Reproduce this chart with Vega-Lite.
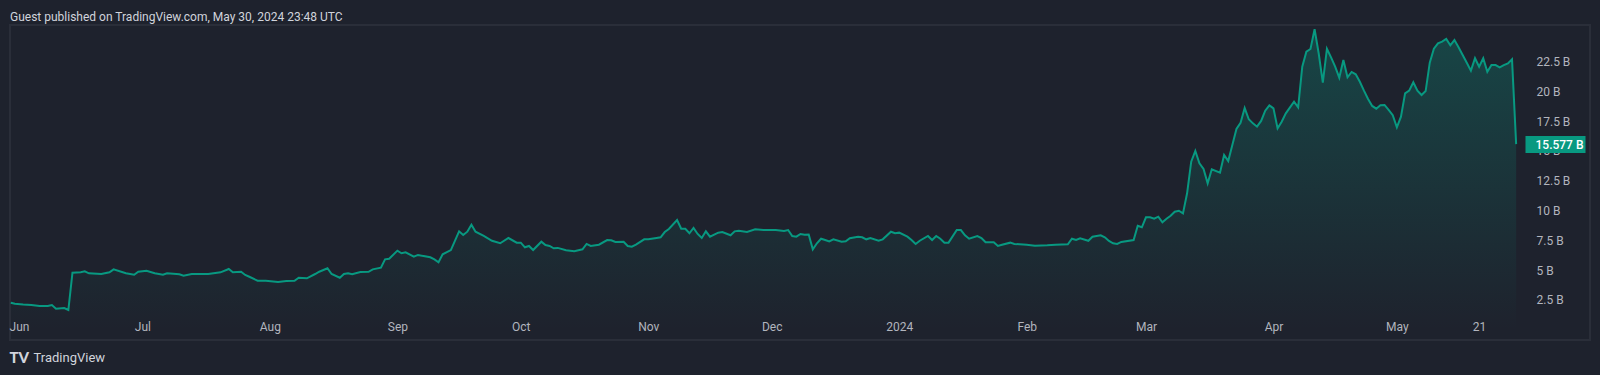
{
  "$schema": "https://vega.github.io/schema/vega-lite/v6.json",
  "width": 1580,
  "height": 315,
  "autosize": {"type": "none"},
  "padding": {"left": 10, "top": 25, "right": 10, "bottom": 35},
  "background": "#1e222d",
  "config": {
    "view": {"stroke": "#2a2e39", "strokeWidth": 2, "fill": "#1e222d"},
    "font": "Roboto"
  },
  "title": {
    "text": "Guest published on TradingView.com, May 30, 2024 23:48 UTC",
    "anchor": "start",
    "frame": "group",
    "offset": 4,
    "dy": 15,
    "baseline": "bottom",
    "color": "#d1d4dc",
    "fontSize": 12,
    "fontWeight": "normal",
    "font": "Roboto"
  },
  "data": {
    "values": [
      {"t": "2023-05-30", "v": 2.27}, {"t": "2023-05-31", "v": 2.18}, {"t": "2023-06-02", "v": 2.12}, {"t": "2023-06-04", "v": 2.08},
      {"t": "2023-06-06", "v": 2.0}, {"t": "2023-06-08", "v": 2.0}, {"t": "2023-06-09", "v": 2.08}, {"t": "2023-06-10", "v": 1.77},
      {"t": "2023-06-12", "v": 1.83}, {"t": "2023-06-13", "v": 1.66}, {"t": "2023-06-14", "v": 4.79}, {"t": "2023-06-16", "v": 4.82},
      {"t": "2023-06-17", "v": 4.9}, {"t": "2023-06-18", "v": 4.74}, {"t": "2023-06-21", "v": 4.68}, {"t": "2023-06-23", "v": 4.82},
      {"t": "2023-06-24", "v": 5.07}, {"t": "2023-06-27", "v": 4.74}, {"t": "2023-06-29", "v": 4.62}, {"t": "2023-06-30", "v": 4.87},
      {"t": "2023-07-02", "v": 4.96}, {"t": "2023-07-04", "v": 4.74}, {"t": "2023-07-06", "v": 4.62}, {"t": "2023-07-07", "v": 4.74},
      {"t": "2023-07-10", "v": 4.66}, {"t": "2023-07-11", "v": 4.54}, {"t": "2023-07-13", "v": 4.68}, {"t": "2023-07-17", "v": 4.68},
      {"t": "2023-07-20", "v": 4.82}, {"t": "2023-07-22", "v": 5.1}, {"t": "2023-07-23", "v": 4.82}, {"t": "2023-07-25", "v": 4.87},
      {"t": "2023-07-26", "v": 4.6}, {"t": "2023-07-27", "v": 4.45}, {"t": "2023-07-29", "v": 4.12}, {"t": "2023-07-31", "v": 4.12},
      {"t": "2023-08-03", "v": 4.01}, {"t": "2023-08-05", "v": 4.09}, {"t": "2023-08-07", "v": 4.12}, {"t": "2023-08-08", "v": 4.37},
      {"t": "2023-08-10", "v": 4.32}, {"t": "2023-08-12", "v": 4.68}, {"t": "2023-08-13", "v": 4.87}, {"t": "2023-08-15", "v": 5.16},
      {"t": "2023-08-16", "v": 4.68}, {"t": "2023-08-18", "v": 4.37}, {"t": "2023-08-19", "v": 4.68}, {"t": "2023-08-20", "v": 4.74},
      {"t": "2023-08-21", "v": 4.66}, {"t": "2023-08-23", "v": 4.85}, {"t": "2023-08-25", "v": 4.87}, {"t": "2023-08-26", "v": 5.07},
      {"t": "2023-08-28", "v": 5.21}, {"t": "2023-08-29", "v": 5.91}, {"t": "2023-08-30", "v": 5.96}, {"t": "2023-09-01", "v": 6.64},
      {"t": "2023-09-02", "v": 6.42}, {"t": "2023-09-03", "v": 6.5}, {"t": "2023-09-05", "v": 6.13}, {"t": "2023-09-06", "v": 6.28},
      {"t": "2023-09-09", "v": 6.08}, {"t": "2023-09-10", "v": 5.91}, {"t": "2023-09-11", "v": 5.66}, {"t": "2023-09-12", "v": 6.33},
      {"t": "2023-09-14", "v": 6.69}, {"t": "2023-09-16", "v": 8.26}, {"t": "2023-09-17", "v": 7.95}, {"t": "2023-09-18", "v": 8.23},
      {"t": "2023-09-19", "v": 8.82}, {"t": "2023-09-20", "v": 8.23}, {"t": "2023-09-22", "v": 7.87}, {"t": "2023-09-24", "v": 7.47},
      {"t": "2023-09-26", "v": 7.26}, {"t": "2023-09-28", "v": 7.7}, {"t": "2023-09-30", "v": 7.31}, {"t": "2023-10-01", "v": 7.31},
      {"t": "2023-10-02", "v": 6.92}, {"t": "2023-10-03", "v": 7.03}, {"t": "2023-10-04", "v": 6.69}, {"t": "2023-10-06", "v": 7.39},
      {"t": "2023-10-07", "v": 7.11}, {"t": "2023-10-08", "v": 7.03}, {"t": "2023-10-09", "v": 6.84}, {"t": "2023-10-10", "v": 6.87},
      {"t": "2023-10-12", "v": 6.67}, {"t": "2023-10-14", "v": 6.59}, {"t": "2023-10-16", "v": 6.75}, {"t": "2023-10-17", "v": 7.2},
      {"t": "2023-10-18", "v": 7.03}, {"t": "2023-10-20", "v": 7.14}, {"t": "2023-10-22", "v": 7.53}, {"t": "2023-10-23", "v": 7.51},
      {"t": "2023-10-24", "v": 7.37}, {"t": "2023-10-26", "v": 7.39}, {"t": "2023-10-27", "v": 7.03}, {"t": "2023-10-28", "v": 6.97},
      {"t": "2023-10-29", "v": 7.14}, {"t": "2023-10-31", "v": 7.59}, {"t": "2023-11-01", "v": 7.59}, {"t": "2023-11-03", "v": 7.7},
      {"t": "2023-11-04", "v": 7.76}, {"t": "2023-11-05", "v": 8.2}, {"t": "2023-11-06", "v": 8.46}, {"t": "2023-11-08", "v": 9.21},
      {"t": "2023-11-09", "v": 8.48}, {"t": "2023-11-10", "v": 8.48}, {"t": "2023-11-11", "v": 8.1}, {"t": "2023-11-12", "v": 8.54},
      {"t": "2023-11-13", "v": 8.04}, {"t": "2023-11-14", "v": 7.7}, {"t": "2023-11-15", "v": 8.26}, {"t": "2023-11-16", "v": 7.81},
      {"t": "2023-11-18", "v": 8.15}, {"t": "2023-11-19", "v": 8.2}, {"t": "2023-11-21", "v": 7.93}, {"t": "2023-11-22", "v": 8.26},
      {"t": "2023-11-23", "v": 8.31}, {"t": "2023-11-25", "v": 8.2}, {"t": "2023-11-27", "v": 8.43}, {"t": "2023-11-29", "v": 8.37},
      {"t": "2023-12-02", "v": 8.37}, {"t": "2023-12-04", "v": 8.29}, {"t": "2023-12-05", "v": 8.37}, {"t": "2023-12-06", "v": 7.87},
      {"t": "2023-12-07", "v": 7.81}, {"t": "2023-12-08", "v": 8.04}, {"t": "2023-12-09", "v": 7.98}, {"t": "2023-12-10", "v": 8.0},
      {"t": "2023-12-11", "v": 6.75}, {"t": "2023-12-12", "v": 7.26}, {"t": "2023-12-13", "v": 7.64}, {"t": "2023-12-14", "v": 7.53},
      {"t": "2023-12-15", "v": 7.42}, {"t": "2023-12-16", "v": 7.59}, {"t": "2023-12-18", "v": 7.39}, {"t": "2023-12-19", "v": 7.42},
      {"t": "2023-12-20", "v": 7.68}, {"t": "2023-12-22", "v": 7.81}, {"t": "2023-12-23", "v": 7.76}, {"t": "2023-12-24", "v": 7.59},
      {"t": "2023-12-25", "v": 7.7}, {"t": "2023-12-27", "v": 7.47}, {"t": "2023-12-28", "v": 7.59}, {"t": "2023-12-30", "v": 8.23},
      {"t": "2023-12-31", "v": 8.1}, {"t": "2024-01-01", "v": 8.15}, {"t": "2024-01-03", "v": 7.81}, {"t": "2024-01-04", "v": 7.53},
      {"t": "2024-01-05", "v": 7.2}, {"t": "2024-01-06", "v": 7.47}, {"t": "2024-01-08", "v": 7.87}, {"t": "2024-01-09", "v": 7.53},
      {"t": "2024-01-10", "v": 7.87}, {"t": "2024-01-11", "v": 7.64}, {"t": "2024-01-12", "v": 7.31}, {"t": "2024-01-13", "v": 7.31},
      {"t": "2024-01-15", "v": 8.37}, {"t": "2024-01-16", "v": 8.37}, {"t": "2024-01-17", "v": 7.93}, {"t": "2024-01-18", "v": 7.64},
      {"t": "2024-01-20", "v": 7.87}, {"t": "2024-01-21", "v": 7.7}, {"t": "2024-01-22", "v": 7.34}, {"t": "2024-01-24", "v": 7.34},
      {"t": "2024-01-25", "v": 7.03}, {"t": "2024-01-26", "v": 7.14}, {"t": "2024-01-28", "v": 7.31}, {"t": "2024-01-29", "v": 7.2},
      {"t": "2024-02-01", "v": 7.14}, {"t": "2024-02-03", "v": 7.06}, {"t": "2024-02-06", "v": 7.09}, {"t": "2024-02-08", "v": 7.14},
      {"t": "2024-02-11", "v": 7.17}, {"t": "2024-02-12", "v": 7.64}, {"t": "2024-02-13", "v": 7.53}, {"t": "2024-02-14", "v": 7.68},
      {"t": "2024-02-16", "v": 7.47}, {"t": "2024-02-17", "v": 7.81}, {"t": "2024-02-19", "v": 7.93}, {"t": "2024-02-20", "v": 7.76},
      {"t": "2024-02-21", "v": 7.45}, {"t": "2024-02-22", "v": 7.26}, {"t": "2024-02-23", "v": 7.2}, {"t": "2024-02-24", "v": 7.37},
      {"t": "2024-02-27", "v": 7.53}, {"t": "2024-02-28", "v": 8.73}, {"t": "2024-02-29", "v": 8.6}, {"t": "2024-03-01", "v": 9.44},
      {"t": "2024-03-02", "v": 9.44}, {"t": "2024-03-03", "v": 9.32}, {"t": "2024-03-04", "v": 9.49}, {"t": "2024-03-05", "v": 9.02},
      {"t": "2024-03-06", "v": 9.32}, {"t": "2024-03-07", "v": 9.57}, {"t": "2024-03-08", "v": 9.91}, {"t": "2024-03-09", "v": 9.99},
      {"t": "2024-03-10", "v": 9.77}, {"t": "2024-03-11", "v": 11.45}, {"t": "2024-03-12", "v": 14.1}, {"t": "2024-03-13", "v": 15.0},
      {"t": "2024-03-14", "v": 13.97}, {"t": "2024-03-15", "v": 13.49}, {"t": "2024-03-16", "v": 12.29}, {"t": "2024-03-17", "v": 13.47},
      {"t": "2024-03-19", "v": 13.18}, {"t": "2024-03-20", "v": 14.66}, {"t": "2024-03-21", "v": 14.16}, {"t": "2024-03-22", "v": 15.5},
      {"t": "2024-03-23", "v": 16.85}, {"t": "2024-03-24", "v": 17.37}, {"t": "2024-03-25", "v": 18.6}, {"t": "2024-03-26", "v": 17.66},
      {"t": "2024-03-27", "v": 17.32}, {"t": "2024-03-28", "v": 17.04}, {"t": "2024-03-29", "v": 17.52}, {"t": "2024-03-30", "v": 18.38},
      {"t": "2024-03-31", "v": 18.83}, {"t": "2024-04-01", "v": 18.58}, {"t": "2024-04-02", "v": 16.9}, {"t": "2024-04-03", "v": 17.46},
      {"t": "2024-04-04", "v": 18.16}, {"t": "2024-04-06", "v": 19.14}, {"t": "2024-04-07", "v": 18.67}, {"t": "2024-04-08", "v": 22.07},
      {"t": "2024-04-09", "v": 23.33}, {"t": "2024-04-10", "v": 23.56}, {"t": "2024-04-11", "v": 25.21}, {"t": "2024-04-12", "v": 23.18},
      {"t": "2024-04-13", "v": 20.73}, {"t": "2024-04-14", "v": 23.58}, {"t": "2024-04-15", "v": 22.86}, {"t": "2024-04-16", "v": 22.07},
      {"t": "2024-04-17", "v": 21.15}, {"t": "2024-04-18", "v": 22.63}, {"t": "2024-04-19", "v": 21.18}, {"t": "2024-04-20", "v": 21.63},
      {"t": "2024-04-21", "v": 21.43}, {"t": "2024-04-22", "v": 20.81}, {"t": "2024-04-23", "v": 20.06}, {"t": "2024-04-24", "v": 19.36},
      {"t": "2024-04-25", "v": 18.78}, {"t": "2024-04-26", "v": 18.55}, {"t": "2024-04-27", "v": 18.83}, {"t": "2024-04-28", "v": 18.86},
      {"t": "2024-04-29", "v": 18.44}, {"t": "2024-04-30", "v": 18.0}, {"t": "2024-05-01", "v": 16.99}, {"t": "2024-05-02", "v": 17.88},
      {"t": "2024-05-03", "v": 19.84}, {"t": "2024-05-04", "v": 20.06}, {"t": "2024-05-05", "v": 20.76}, {"t": "2024-05-06", "v": 20.06},
      {"t": "2024-05-07", "v": 19.7}, {"t": "2024-05-08", "v": 20.03}, {"t": "2024-05-09", "v": 22.41}, {"t": "2024-05-10", "v": 23.58},
      {"t": "2024-05-11", "v": 24.03}, {"t": "2024-05-12", "v": 24.17}, {"t": "2024-05-13", "v": 24.4}, {"t": "2024-05-14", "v": 23.87},
      {"t": "2024-05-15", "v": 24.31}, {"t": "2024-05-16", "v": 23.7}, {"t": "2024-05-17", "v": 23.05}, {"t": "2024-05-18", "v": 22.41},
      {"t": "2024-05-19", "v": 21.74}, {"t": "2024-05-20", "v": 22.78}, {"t": "2024-05-21", "v": 22.07}, {"t": "2024-05-22", "v": 22.78},
      {"t": "2024-05-23", "v": 21.65}, {"t": "2024-05-24", "v": 22.21}, {"t": "2024-05-25", "v": 22.21}, {"t": "2024-05-26", "v": 22.02},
      {"t": "2024-05-27", "v": 22.2}, {"t": "2024-05-28", "v": 22.35}, {"t": "2024-05-29", "v": 22.69}, {"t": "2024-05-30", "v": 15.577}
    ]
  },
  "resolve": {"scale": {"x": "shared", "y": "shared"}, "axis": {"x": "independent", "y": "independent"}},
  "layer": [
    {
      "mark": {
        "type": "area",
        "interpolate": "linear",
        "fill": {
          "gradient": "linear",
          "x1": 0, "y1": 0, "x2": 0, "y2": 1,
          "stops": [
            {"offset": 0, "color": "rgba(8,153,129,0.30)"},
            {"offset": 1, "color": "rgba(8,153,129,0.0)"}
          ]
        }
      },
      "encoding": {
        "x": {
          "field": "t",
          "type": "temporal",
          "scale": {
            "type": "utc",
            "nice": false,
            "domain": [
              {"year": 2023, "month": 5, "date": 29, "hours": 19, "minutes": 30, "utc": true},
              {"year": 2024, "month": 6, "date": 16, "hours": 23, "utc": true}
            ]
          },
          "axis": {
            "orient": "bottom",
            "offset": -25,
            "values": [
              {"year": 2023, "month": 6, "date": 1, "utc": true},
              {"year": 2023, "month": 7, "date": 1, "utc": true},
              {"year": 2023, "month": 8, "date": 1, "utc": true},
              {"year": 2023, "month": 9, "date": 1, "utc": true},
              {"year": 2023, "month": 10, "date": 1, "utc": true},
              {"year": 2023, "month": 11, "date": 1, "utc": true},
              {"year": 2023, "month": 12, "date": 1, "utc": true},
              {"year": 2024, "month": 1, "date": 1, "utc": true},
              {"year": 2024, "month": 2, "date": 1, "utc": true},
              {"year": 2024, "month": 3, "date": 1, "utc": true},
              {"year": 2024, "month": 4, "date": 1, "utc": true},
              {"year": 2024, "month": 5, "date": 1, "utc": true},
              {"year": 2024, "month": 5, "date": 21, "utc": true}
            ],
            "labelExpr": "utcdate(datum.value) != 1 ? utcFormat(datum.value, '%d') : (utcmonth(datum.value) == 0 ? utcFormat(datum.value, '%Y') : utcFormat(datum.value, '%b'))",
            "domain": false,
            "ticks": false,
            "tickSize": 0,
            "grid": false,
            "labelPadding": 6,
            "labelColor": "#b2b5be",
            "labelFontSize": 12,
            "labelFont": "Roboto",
            "labelFlush": false,
            "labelOverlap": false,
            "labelBound": false,
            "title": "TradingView",
            "titleX": 23,
            "titleY": 42,
            "titleAlign": "left",
            "titleAnchor": "start",
            "titleBaseline": "middle",
            "titleColor": "#d1d4dc",
            "titleFontSize": 13,
            "titleFontWeight": "normal",
            "titleFont": "Roboto"
          }
        },
        "y": {
          "field": "v",
          "type": "quantitative",
          "scale": {"domain": [-0.856, 25.57], "zero": false, "nice": false},
          "axis": {
            "orient": "right",
            "offset": -54,
            "values": [2.5, 5, 7.5, 10, 12.5, 15, 17.5, 20, 22.5],
            "labelExpr": "datum.value + ' B'",
            "domain": false,
            "ticks": false,
            "tickSize": 0,
            "grid": false,
            "labelPadding": 0,
            "labelColor": "#b2b5be",
            "labelFontSize": 12,
            "labelFont": "Roboto",
            "labelFlush": false,
            "labelOverlap": false,
            "labelBound": false,
            "title": null
          }
        }
      }
    },
    {
      "mark": {"type": "line", "stroke": "#089981", "strokeWidth": 2, "interpolate": "linear"},
      "encoding": {
        "x": {"field": "t", "type": "temporal", "axis": null},
        "y": {"field": "v", "type": "quantitative", "axis": null}
      }
    },
    {
      "mark": {"type": "point", "opacity": 0},
      "encoding": {
        "x": {
          "field": "t",
          "type": "temporal",
          "axis": {
            "orient": "bottom",
            "offset": -25,
            "labels": false,
            "ticks": false,
            "domain": false,
            "grid": false,
            "title": "TV",
            "titleX": -1,
            "titleY": 42,
            "titleAlign": "left",
            "titleAnchor": "start",
            "titleBaseline": "middle",
            "titleColor": "#d1d4dc",
            "titleFontSize": 15,
            "titleFontWeight": 900,
            "titleFont": "Lato"
          }
        },
        "y": {
          "field": "v",
          "type": "quantitative",
          "axis": {
            "orient": "right",
            "offset": -65,
            "values": [15.577],
            "labelExpr": "format(datum.value, '.3f') + ' B'",
            "domain": false,
            "ticks": true,
            "tickSize": 60,
            "tickWidth": 17,
            "tickCap": "butt",
            "tickColor": "#089981",
            "tickOpacity": 1,
            "grid": false,
            "labelPadding": -50,
            "labelColor": "#ffffff",
            "labelFontSize": 12,
            "labelFont": "Roboto",
            "labelFontWeight": 500,
            "labelFlush": false,
            "labelOverlap": false,
            "labelBound": false,
            "title": null
          }
        }
      }
    }
  ]
}
